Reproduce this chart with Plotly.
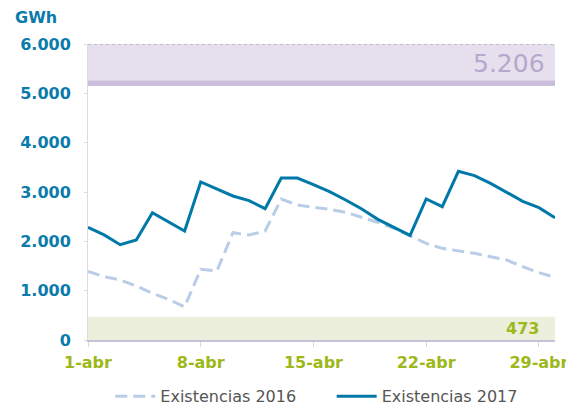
import plotly.graph_objects as go

days = list(range(1, 31))
tick_days = [1, 8, 15, 22, 29]
tick_labels = ["1-abr", "8-abr", "15-abr", "22-abr", "29-abr"]
y_ticks = [0, 1000, 2000, 3000, 4000, 5000, 6000]
y_tick_labels = ["0", "1.000", "2.000", "3.000", "4.000", "5.000", "6.000"]

exist_2016 = [1390, 1284, 1216, 1095, 946, 825, 672, 1433, 1398, 2175, 2128, 2209,
              2858, 2737, 2690, 2649, 2588, 2487, 2386, 2264, 2108, 1960, 1858, 1810,
              1757, 1689, 1622, 1486, 1365, 1271]
exist_2017 = [2285, 2130, 1932, 2027, 2581, 2392, 2210, 3203, 3055, 2919, 2824, 2662,
              3284, 3284, 3150, 3006, 2838, 2655, 2446, 2284, 2120, 2858, 2703, 3420,
              3331, 3176, 2993, 2811, 2682, 2480]

capacidad = 5206
minimo = 473
y_max = 6000

BLUE = "#0a7bab"
GREEN = "#9db81a"
NBSP = "\u00a0"

fig = go.Figure()
fig.add_trace(go.Scatter(x=days, y=exist_2016, mode="lines", name="Existencias 2016" + NBSP * 6,
                         line=dict(color="#b9cde6", width=3, dash="12px,6px")))
fig.add_trace(go.Scatter(x=days, y=exist_2017, mode="lines", name="Existencias 2017",
                         line=dict(color="#0079a9", width=3)))

# bands
fig.add_shape(type="rect", xref="paper", x0=0, x1=1, yref="y", y0=capacidad, y1=y_max,
              fillcolor="#e6e0ee", line_width=0, layer="below")
fig.add_shape(type="line", xref="paper", x0=0, x1=1, yref="y", y0=capacidad, y1=capacidad,
              line=dict(color="#cbbfdb", width=5.5), layer="below")
fig.add_shape(type="line", xref="paper", x0=0, x1=1, yref="y", y0=y_max, y1=y_max,
              line=dict(color="#b0b0b0", width=1.5, dash="dot"), layer="above")
fig.add_shape(type="rect", xref="paper", x0=0, x1=1, yref="y", y0=0, y1=minimo,
              fillcolor="#ebefdc", line_width=0, layer="below")

fig.add_annotation(xref="paper", x=0.983, xanchor="right", yref="y", y=(capacidad + y_max) / 2,
                   text=f"{capacidad/1000:.3f}", showarrow=False,
                   font=dict(family="DejaVu Sans", size=25, color="#b7a7cc"))
fig.add_annotation(xref="paper", x=0.971, xanchor="right", yref="y", y=minimo / 2,
                   text=f"<b>{minimo}</b>", showarrow=False,
                   font=dict(family="DejaVu Sans", size=16, color=GREEN))
fig.add_annotation(xref="paper", x=-0.158, xanchor="left", yref="paper", y=1.090,
                   yanchor="middle", text="<b>GWh</b>", showarrow=False, borderpad=0,
                   font=dict(family="DejaVu Sans", size=16, color=BLUE))

fig.update_layout(
    width=566, height=398,
    margin=dict(l=80, r=19, t=36, b=66, autoexpand=False),
    plot_bgcolor="white", paper_bgcolor="white",
    font=dict(family="DejaVu Sans"),
    showlegend=True,
    legend=dict(orientation="h", x=0.49, xanchor="center", y=-0.19, yanchor="middle",
                font=dict(size=16, color="#555555"), itemwidth=40),
    xaxis=dict(range=[1, 30], tickvals=tick_days, ticktext=tick_labels, automargin=False,
               showgrid=False, zeroline=False, showline=True, linecolor="#c9c0da", linewidth=2,
               ticks="outside", ticklen=5, tickcolor="#d8e0b8", ticklabelstandoff=2,
               tickfont=dict(family="DejaVu Sans", size=16, color=GREEN, weight="bold")),
    yaxis=dict(range=[0, y_max], tickvals=y_ticks, ticktext=y_tick_labels, automargin=False,
               showgrid=False, zeroline=False, showline=True, linecolor="#dddddd", linewidth=1,
               ticks="outside", ticklen=3, tickcolor="#dddddd", ticklabelstandoff=10,
               tickfont=dict(family="DejaVu Sans", size=16, color=BLUE, weight="bold")),
)

fig.write_html("out.html")
